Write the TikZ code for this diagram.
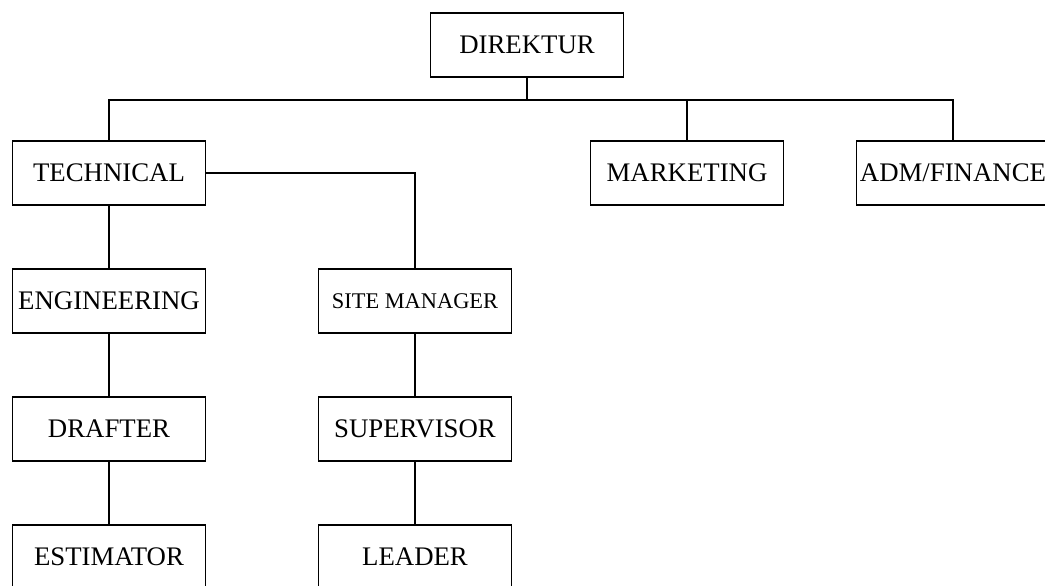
\documentclass[tikz,border=0pt]{standalone}
\usepackage{fontspec}
\setmainfont{Liberation Serif}

\tikzset{
    unit/.style={draw, line width=0.8pt, minimum width=96.5pt, minimum height=32pt,
        inner sep=0pt, font=\fontsize{13.4}{15}\selectfont},
    small/.style={font=\fontsize{11.2}{13}\selectfont},
    link/.style={line width=0.8pt}
}

\begin{document}
\begin{tikzpicture}[x=0.5pt, y=-0.5pt]
    \useasboundingbox (0, 0) rectangle (1045, 585);
    \coordinate (bus) at (527, 100);

    \node[unit] (dir) at (527, 45) {DIREKTUR};
    \node[unit] (tech) at (109, 173) {TECHNICAL};
    \node[unit] (mkt) at (687, 173) {MARKETING};
    \node[unit] (adm) at (953, 173) {ADM/FINANCE};
    \node[unit] (eng) at (109, 301) {ENGINEERING};
    \node[unit, small] (site) at (415, 301) {SITE MANAGER};
    \node[unit] (draft) at (109, 429) {DRAFTER};
    \node[unit] (sup) at (415, 429) {SUPERVISOR};
    \node[unit] (est) at (109, 557) {ESTIMATOR};
    \node[unit] (lead) at (415, 557) {LEADER};

    \draw[link] (dir) -- (bus);
    \draw[link] (tech.north) |- (bus) -| (adm.north);
    \draw[link] (bus) -| (mkt.north);
    \draw[link] (tech.east) -| (site.north);
    \draw[link] (tech) -- (eng);
    \draw[link] (eng) -- (draft);
    \draw[link] (draft) -- (est);
    \draw[link] (site) -- (sup);
    \draw[link] (sup) -- (lead);
\end{tikzpicture}
\end{document}
